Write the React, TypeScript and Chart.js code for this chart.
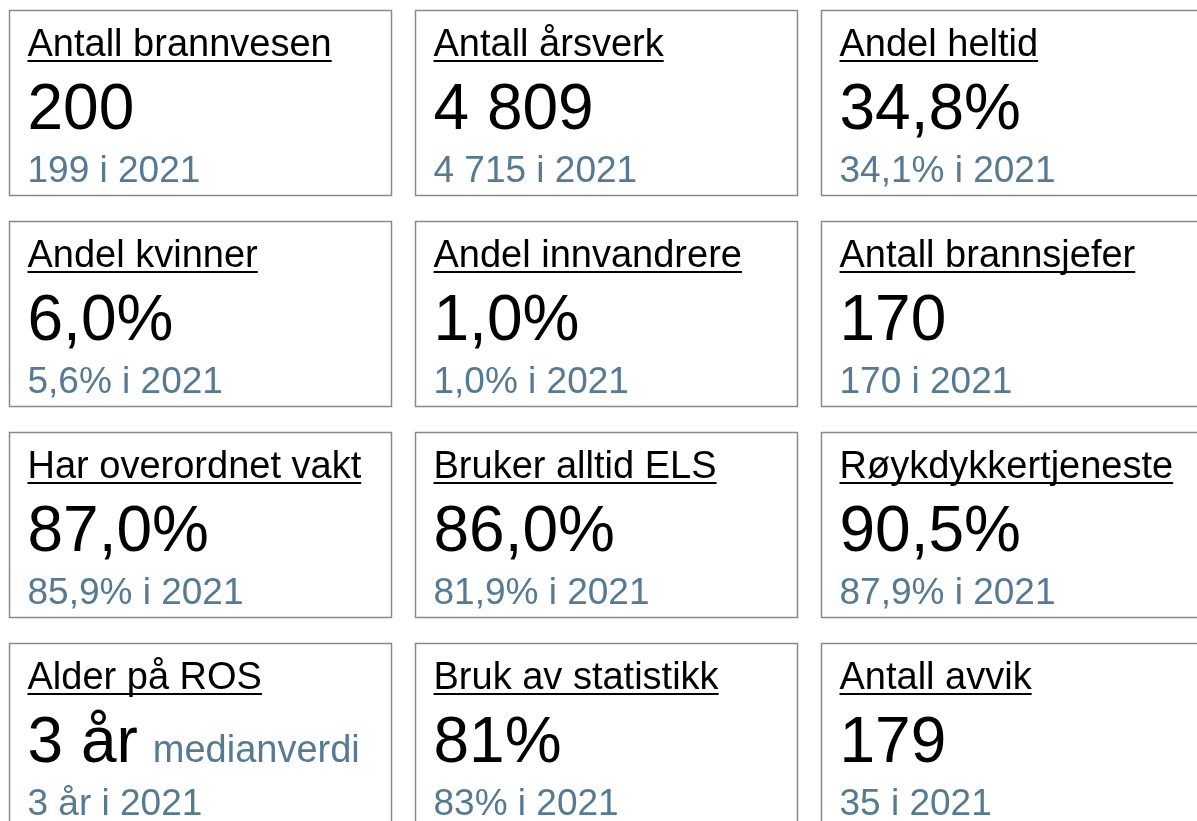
import React, { useEffect, useRef } from "react";
import { Chart, registerables } from "chart.js";

Chart.register(...registerables);

// ---- data ----
const titles = [
  "Antall brannvesen",
  "Antall årsverk",
  "Andel heltid",
  "Andel kvinner",
  "Andel innvandrere",
  "Antall brannsjefer",
  "Har overordnet vakt",
  "Bruker alltid ELS",
  "Røykdykkertjeneste",
  "Alder på ROS",
  "Bruk av statistikk",
  "Antall avvik",
];
const currentValues = [200, 4809, 34.8, 6.0, 1.0, 170, 87.0, 86.0, 90.5, 3, 81, 179];
const previousValues = [199, 4715, 34.1, 5.6, 1.0, 170, 85.9, 81.9, 87.9, 3, 83, 35];
const valueFormats = ["int", "int", "pct1", "pct1", "pct1", "int", "pct1", "pct1", "pct1", "years", "pct0", "int"];
const valueNotes = ["", "", "", "", "", "", "", "", "", "medianverdi", "", ""];
const previousYear = "2021";
const columnsPerRow = 3;

function fmt(v: number, kind: string): string {
  if (kind === "pct1") return v.toFixed(1).replace(".", ",") + "%";
  if (kind === "pct0") return Math.round(v) + "%";
  if (kind === "years") return Math.round(v) + " år";
  const s = Math.round(v).toString();
  return s.replace(/\B(?=(\d{3})+(?!\d))/g, " ");
}

const FONT = '"Liberation Sans", Arial, Helvetica, sans-serif';
const CARD_W = 382;
const CARD_H = 185;

const cardPlugin = {
  id: "kpiCards",
  afterDatasetsDraw(chart: any) {
    const ctx: CanvasRenderingContext2D = chart.ctx;
    const meta = chart.getDatasetMeta(0);
    ctx.save();
    meta.data.forEach((el: any, i: number) => {
      const left = Math.round(el.x - CARD_W / 2);
      const top = Math.round(el.y - CARD_H / 2);
      // border
      ctx.strokeStyle = "#8a8a8a";
      ctx.lineWidth = 1.5;
      ctx.strokeRect(left + 0.5, top + 0.5, CARD_W, CARD_H);
      const tx = left + 18.5;
      ctx.textAlign = "left";
      ctx.textBaseline = "alphabetic";
      // title
      ctx.fillStyle = "#000";
      ctx.font = `38px ${FONT}`;
      ctx.fillText(titles[i], tx, top + 46);
      const tw = ctx.measureText(titles[i]).width;
      ctx.fillRect(tx, top + 50, tw, 2);
      // value
      ctx.font = `64px ${FONT}`;
      const val = fmt(currentValues[i], valueFormats[i]);
      ctx.fillText(val, tx, top + 119);
      const vw = ctx.measureText(val).width;
      if (valueNotes[i]) {
        ctx.fillStyle = "#557a92";
        ctx.font = `38px ${FONT}`;
        ctx.fillText(valueNotes[i], tx + vw + 15, top + 119);
      }
      // previous
      ctx.fillStyle = "#557a92";
      ctx.font = `37px ${FONT}`;
      ctx.fillText(`${fmt(previousValues[i], valueFormats[i])} i ${previousYear}`, tx, top + 172);
    });
    ctx.restore();
  },
};

export default function App() {
  const ref = useRef<HTMLCanvasElement | null>(null);
  useEffect(() => {
    document.body.style.margin = "0";
    const canvas = ref.current!;
    const points = titles.map((_, i) => ({ x: i % columnsPerRow, y: Math.floor(i / columnsPerRow) }));
    const chart = new Chart(canvas, {
      type: "scatter",
      data: { datasets: [{ data: points, pointRadius: 0, pointHoverRadius: 0 }] },
      options: {
        animation: false,
        responsive: false,
        events: [],
        layout: { padding: 0 },
        plugins: { legend: { display: false }, tooltip: { enabled: false } },
        scales: {
          x: { type: "linear", min: -0.494, max: 2.456, display: false },
          y: { type: "linear", min: -0.486, max: 3.405, reverse: true, display: false },
        },
      },
      plugins: [cardPlugin],
    });
    return () => chart.destroy();
  }, []);
  return (
    <canvas
      ref={ref}
      width={1197}
      height={821}
      style={{ position: "fixed", left: 0, top: 0, width: 1197, height: 821, background: "#fff" }}
    />
  );
}
